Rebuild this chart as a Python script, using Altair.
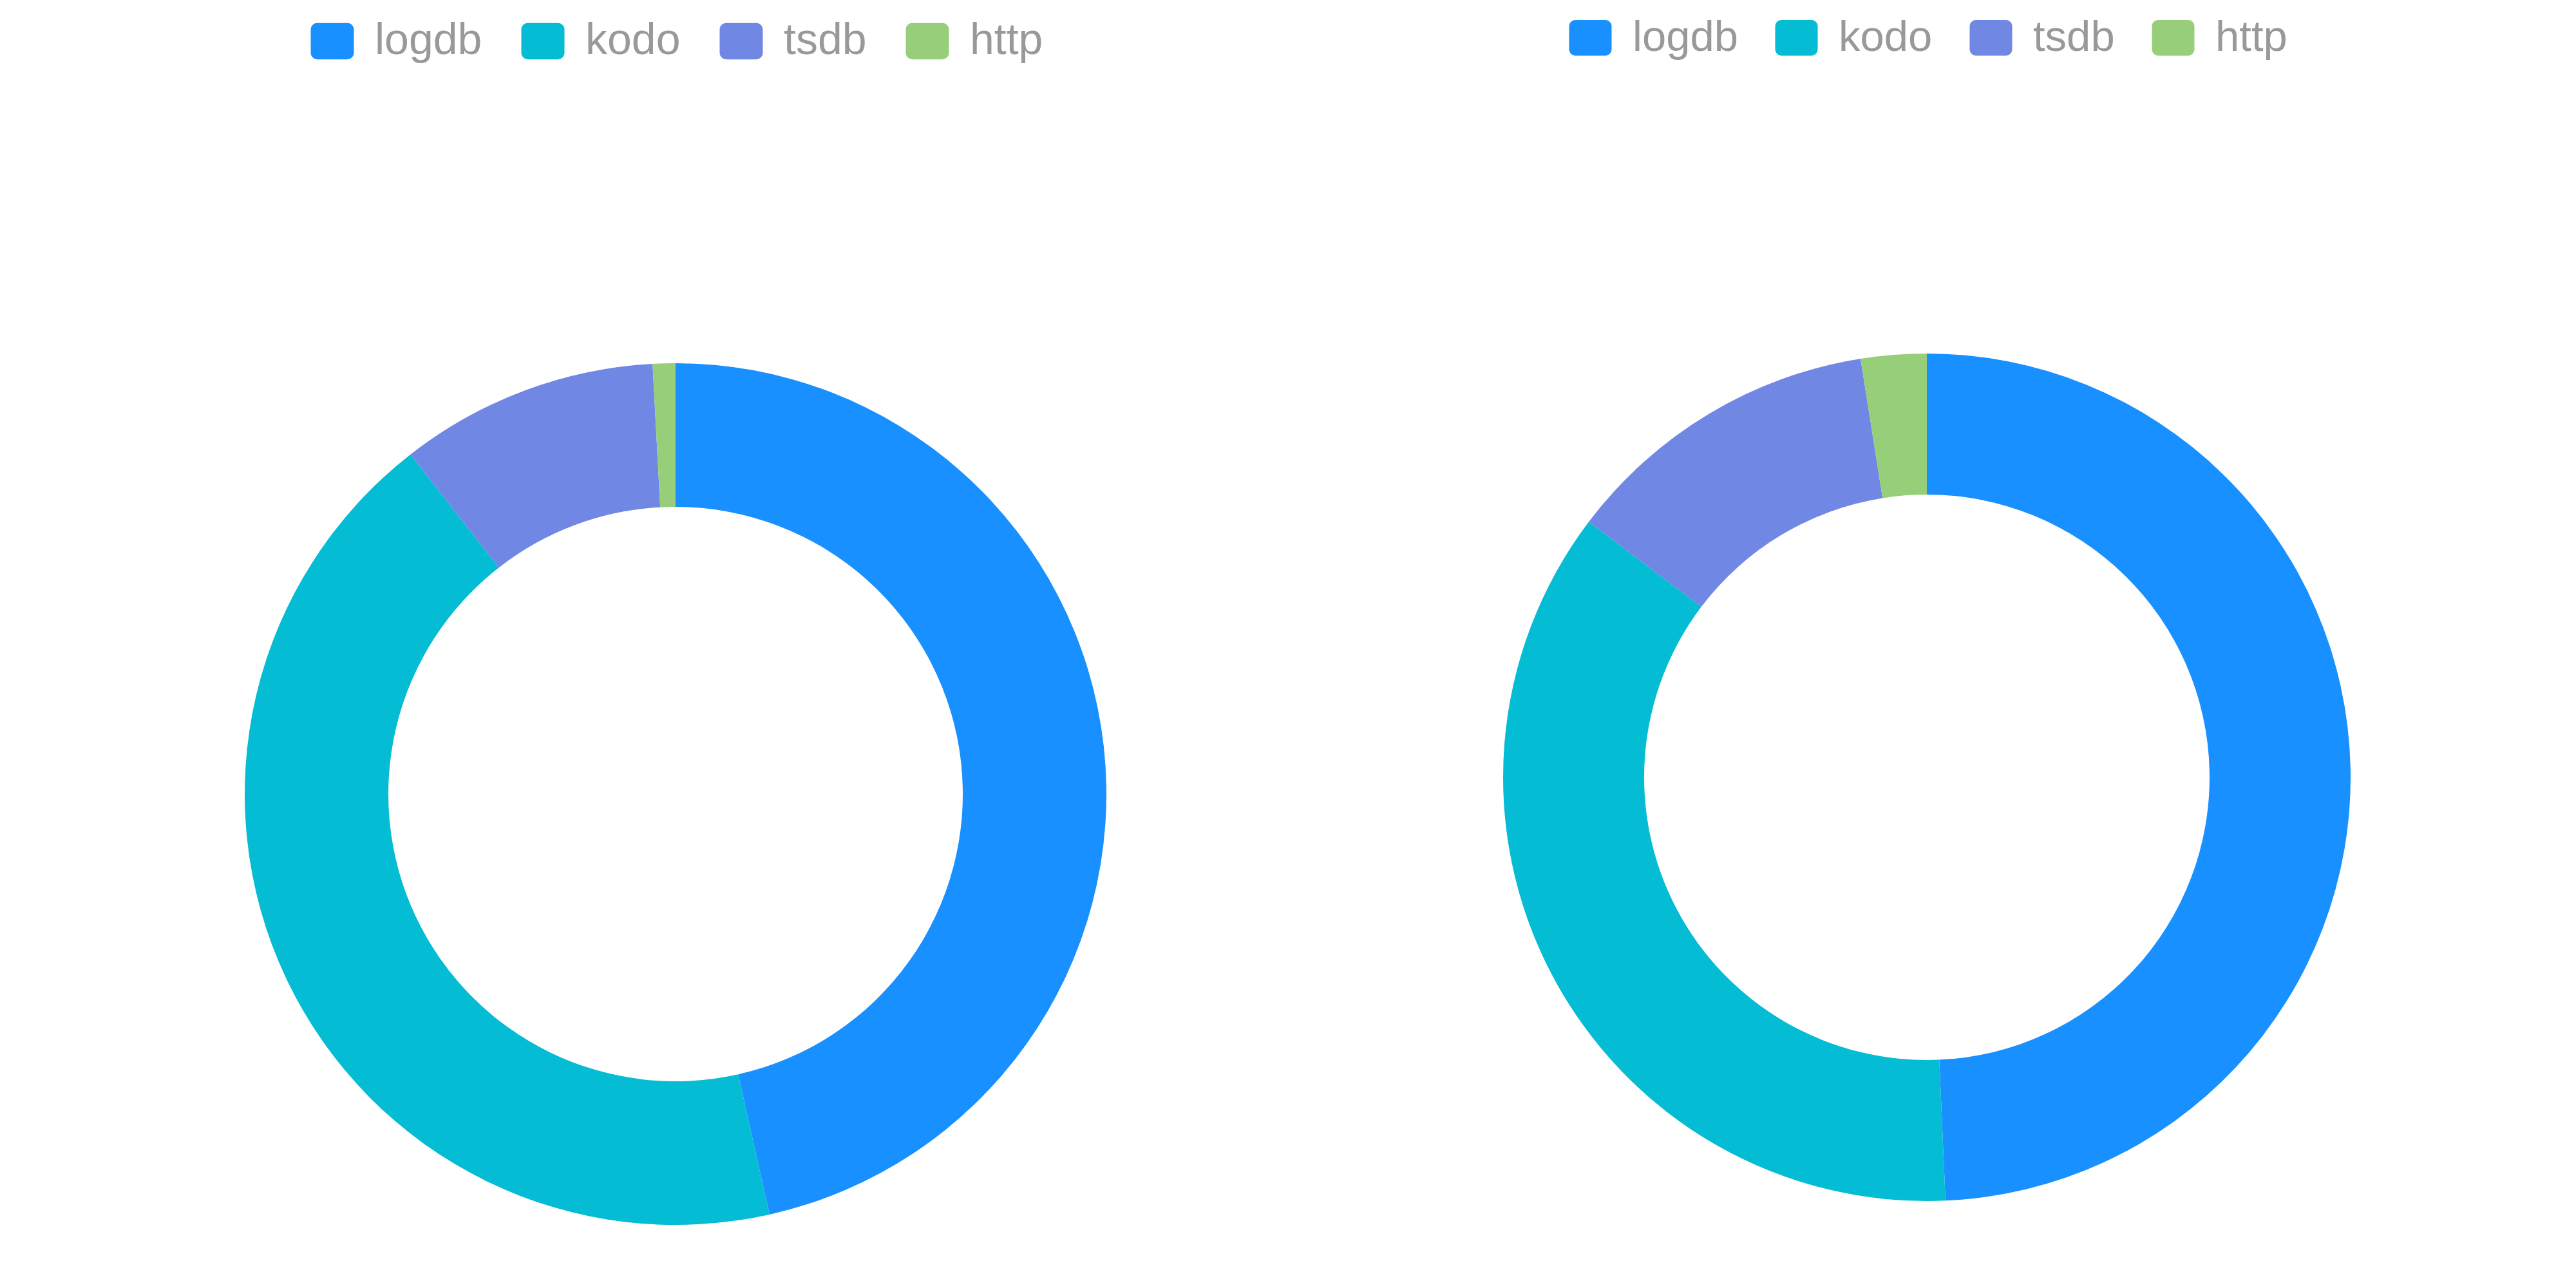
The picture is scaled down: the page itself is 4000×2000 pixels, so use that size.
import altair as alt
import pandas as pd

categories = ["logdb", "kodo", "tsdb", "http"]
colors = ["#1890FF", "#04BCD4", "#7087E4", "#97CE7A"]
left_values = [46.5, 42.95, 9.7, 0.85]
right_values = [49.3, 36.0, 12.2, 2.5]

ROUND_RECT = ("M-0.7,-0.84L0.7,-0.84A0.3,0.3,0,0,1,1,-0.54L1,0.54"
              "A0.3,0.3,0,0,1,0.7,0.84L-0.7,0.84A0.3,0.3,0,0,1,-1,0.54"
              "L-1,-0.54A0.3,0.3,0,0,1,-0.7,-0.84Z")


def donut(values, cx, cy, r_in, r_out, lx, ly, fsize, ssize, cpad):
    df = pd.DataFrame({"name": categories, "value": values,
                       "idx": list(range(len(categories)))})
    return alt.Chart(df).mark_arc(
        innerRadius=r_in, outerRadius=r_out, stroke=None
    ).encode(
        x=alt.value(cx),
        y=alt.value(cy),
        theta=alt.Theta("value:Q", stack=True),
        order=alt.Order("idx:Q"),
        color=alt.Color(
            "name:N",
            scale=alt.Scale(domain=categories, range=colors),
            sort=categories,
            legend=alt.Legend(
                orient="none", legendX=lx, legendY=ly, direction="horizontal",
                title=None, symbolType=ROUND_RECT, symbolSize=ssize,
                symbolStrokeWidth=0, symbolOpacity=1,
                labelFontSize=fsize, labelFont="Liberation Sans",
                labelColor="#999999", labelOffset=32, labelLimit=500,
                columnPadding=cpad, padding=0,
            ),
        ),
    ).properties(width=1992, height=1984)


left = donut(left_values, 1041, 1225, 446, 669, 474, 22, 68, 4489, 60)
right = donut(right_values, 992, 1199, 439, 658, 436, 17, 67, 4356, 57)

chart = alt.hconcat(left, right, spacing=0).resolve_scale(
    color="independent", theta="independent"
).resolve_legend(color="independent").properties(
    padding=0
).configure_view(stroke=None)

chart.save("out.html", embed_options={"renderer": "svg", "actions": False})
